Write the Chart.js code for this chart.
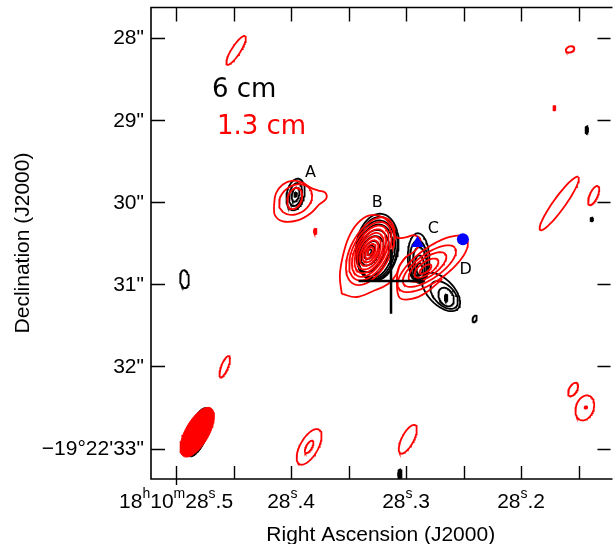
<!DOCTYPE html>
<html><head><meta charset="utf-8">
<script src="https://cdn.jsdelivr.net/npm/chart.js@4.4.0/dist/chart.umd.min.js"></script>
<style>html,body{margin:0;padding:0;background:#fff;}#wrap{width:616px;height:544px;}</style>
</head><body><div id="wrap"><canvas id="c" width="616" height="544"></canvas></div>
<script>
// ---- axes (RA seconds of 18h10m, Dec arcsec of -19°22') ----
const raRange = [28.1240, 28.5218];
const decRange = [27.633, 33.369];
const xTickValues = [28.5, 28.45, 28.4, 28.35, 28.3, 28.25, 28.2, 28.15];
const xLabelValues = [28.5, 28.4, 28.3, 28.2];
const xLabelTexts = ['18^h10^m28^s.5', '28^s.4', '28^s.3', '28^s.2'];
const yTickValues = [28, 29, 30, 31, 32, 33];
const yLabelTexts = ['28"', '29"', '30"', '31"', '32"', '\u221219\u00b022\'33"'];
const xTitle = 'Right Ascension (J2000)';
const yTitle = 'Declination (J2000)';

// ---- contours: [RA s, Dec arcsec, semi-major ", semi-minor ", angle deg] ----
const redContours = [
  [28.4478, 28.154, 0.206, 0.054, 57],
  [28.1574, 28.142, 0.054, 0.036, 20],
  [28.1668, 30.017, 0.399, 0.073, 54],
  [28.1369, 29.920, 0.127, 0.048, 65],
  [28.1548, 32.280, 0.091, 0.048, 60],
  [28.1446, 32.504, 0.157, 0.109, 70],
  [28.2985, 32.885, 0.194, 0.073, 62],
  [28.3843, 32.978, 0.242, 0.109, 60],
  [28.3843, 32.978, 0.085, 0.036, 60],
  [28.4577, 32.002, 0.139, 0.042, 68],
  [28.3961, 29.969, 0.218, 0.169, 35],
  [28.3969, 29.957, 0.133, 0.085, 70],
  [28.3311, 30.598, 0.448, 0.242, 62],
  [28.3311, 30.598, 0.387, 0.212, 62],
  [28.3311, 30.598, 0.339, 0.182, 62],
  [28.3311, 30.598, 0.290, 0.157, 62],
  [28.3311, 30.598, 0.242, 0.133, 62],
  [28.3311, 30.598, 0.194, 0.103, 62],
  [28.3311, 30.598, 0.145, 0.079, 62],
  [28.3311, 30.598, 0.097, 0.054, 62],
  [28.3311, 30.598, 0.054, 0.030, 62],
  [28.2768, 30.752, 0.515, 0.200, 36],
  [28.2797, 30.779, 0.385, 0.150, 35],
  [28.2814, 30.791, 0.272, 0.112, 35],
  [28.2823, 30.803, 0.172, 0.075, 35],
  [28.2831, 30.815, 0.085, 0.036, 35]
];
const redDots = [
  [28.1711, 28.856, 0.030, 0.015, 90],
  [28.3790, 30.356, 0.036, 0.018, 90],
  [28.1437, 32.498, 0.018, 0.015, 0]
];
const blackContours = [
  [28.4927, 30.937, 0.109, 0.054, 95],
  [28.2404, 31.421, 0.042, 0.024, 70],
  [28.3961, 29.908, 0.195, 0.108, 78],
  [28.3961, 29.908, 0.142, 0.076, 78],
  [28.3961, 29.908, 0.088, 0.044, 78],
  [28.3251, 30.550, 0.410, 0.260, 82],
  [28.3251, 30.562, 0.385, 0.245, 82],
  [28.3259, 30.580, 0.360, 0.228, 80],
  [28.3268, 30.598, 0.330, 0.210, 78],
  [28.3285, 30.622, 0.290, 0.182, 74],
  [28.3302, 30.634, 0.230, 0.140, 68],
  [28.3311, 30.622, 0.160, 0.095, 62],
  [28.3319, 30.610, 0.090, 0.050, 60],
  [28.3319, 30.610, 0.040, 0.022, 60],
  [28.2891, 30.682, 0.303, 0.133, 92],
  [28.2891, 30.719, 0.254, 0.109, 92],
  [28.2883, 30.755, 0.206, 0.085, 92],
  [28.2883, 30.791, 0.145, 0.061, 92],
  [28.2883, 30.815, 0.073, 0.036, 92],
  [28.2695, 31.094, 0.290, 0.157, -45],
  [28.2669, 31.130, 0.206, 0.121, -45],
  [28.2652, 31.155, 0.121, 0.085, -60]
];
const blackDots = [
  [28.1429, 29.122, 0.048, 0.018, 90],
  [28.1386, 30.211, 0.024, 0.018, 90],
  [28.3054, 33.309, 0.060, 0.024, 90],
  [28.3961, 29.908, 0.030, 0.018, 78],
  [28.2652, 31.167, 0.048, 0.018, 90]
];
// irregular outer red contours (vertex lists)
const outlineA_ra  = [28.4149, 28.4132, 28.4072, 28.3986, 28.3901, 28.3832, 28.3764, 28.3704, 28.3695, 28.3755, 28.3832, 28.3944, 28.4072, 28.4140];
const outlineA_dec = [30.053, 29.896, 29.787, 29.739, 29.763, 29.824, 29.860, 29.884, 29.957, 30.029, 30.138, 30.222, 30.234, 30.162];
const outlineB_ra  = [28.3559, 28.3576, 28.3550, 28.3499, 28.3422, 28.3319, 28.3199, 28.3122, 28.3088, 28.3003, 28.2926, 28.2874, 28.2917, 28.3003, 28.3054, 28.3088, 28.3157, 28.3285, 28.3430];
const outlineB_dec = [31.118, 30.900, 30.658, 30.429, 30.259, 30.162, 30.187, 30.308, 30.429, 30.429, 30.404, 30.465, 30.586, 30.671, 30.767, 30.888, 30.997, 31.082, 31.155];
const outlineCD_ra  = [28.3003, 28.3062, 28.3080, 28.3054, 28.2951, 28.2831, 28.2686];
const outlineCD_dec = [30.671, 30.791, 30.985, 31.167, 31.179, 31.106, 30.937];
// synthesized beams (filled)
const beamBlack = [28.4808, 32.800, 0.315, 0.121, 70];
const beamRed   = [28.4816, 32.800, 0.339, 0.145, 60];
// markers
const crossH_ra = [28.3413, 28.2849], crossH_dec = [30.961, 30.961];
const crossV_ra = [28.3131, 28.3131], crossV_dec = [30.574, 31.360];
const triangleRA = [28.2900], triangleDec = [30.501];
const circleRA = [28.2506], circleDec = [30.453];
// annotations
const sourceNames = ['A', 'B', 'C', 'D'];
const sourceRA  = [28.3832, 28.3251, 28.2763, 28.2481];
const sourceDec = [29.642, 30.005, 30.320, 30.828];
const legendTexts = ['6 cm', '1.3 cm'];
const legendColors = ['#000000', '#ff0000'];
const legendRA  = [28.4688, 28.4645];
const legendDec = [28.722, 29.170];

// ---- build ----
const ARCSEC_PER_RA_S = 15 * Math.cos((19 + 22.5 / 60) * Math.PI / 180);
function ellipsePts(e) {
  const [cx, cy, a, b, ang] = e, t0 = ang * Math.PI / 180, pts = [], n = 72;
  for (let i = 0; i <= n; i++) {
    const t = 2 * Math.PI * i / n, ex = a * Math.cos(t), ey = b * Math.sin(t);
    const X = ex * Math.cos(t0) - ey * Math.sin(t0), Y = ex * Math.sin(t0) + ey * Math.cos(t0);
    pts.push({x: cx - X / ARCSEC_PER_RA_S, y: cy - Y});
  }
  return pts;
}
function zipPts(xs, ys, close) {
  const p = xs.map((x, i) => ({x, y: ys[i]}));
  if (close) p.push({...p[0]});
  return p;
}
function ds(pts, color, order, opts) {
  return Object.assign({data: pts, showLine: true, borderColor: color, backgroundColor: color,
    borderWidth: 1.8, pointRadius: 0, pointHoverRadius: 0, fill: false, tension: 0, order}, opts || {});
}
const datasets = [];
datasets.push({data: zipPts(triangleRA, triangleDec), pointStyle: 'triangle', pointRadius: 7.5, backgroundColor: '#0000ff', borderColor: '#0000ff', borderWidth: 0, showLine: false, order: 0});
datasets.push({data: zipPts(circleRA, circleDec), pointStyle: 'circle', pointRadius: 6, backgroundColor: '#0000ff', borderColor: '#0000ff', borderWidth: 0, showLine: false, order: 0});
datasets.push(ds(zipPts(crossH_ra, crossH_dec), '#000', 1, {borderWidth: 2.5}));
datasets.push(ds(zipPts(crossV_ra, crossV_dec), '#000', 1, {borderWidth: 2.5}));
redContours.forEach(e => datasets.push(ds(ellipsePts(e), '#ff0000', 2)));
redDots.forEach(e => datasets.push(ds(ellipsePts(e), '#ff0000', 2, {fill: 'shape', borderWidth: 1.5})));
datasets.push(ds(zipPts(outlineA_ra, outlineA_dec, true), '#ff0000', 2, {tension: 0.4}));
datasets.push(ds(zipPts(outlineB_ra, outlineB_dec, true), '#ff0000', 2, {tension: 0.4}));
datasets.push(ds(zipPts(outlineCD_ra, outlineCD_dec, false), '#ff0000', 2, {tension: 0.4}));
datasets.push(ds(ellipsePts(beamRed), '#ff0000', 2, {fill: 'shape', borderWidth: 1}));
blackContours.forEach(e => datasets.push(ds(ellipsePts(e), '#000000', 3)));
blackDots.forEach(e => datasets.push(ds(ellipsePts(e), '#000000', 3, {fill: 'shape', borderWidth: 1.5})));
datasets.push(ds(ellipsePts(beamBlack), '#000000', 3, {fill: 'shape', borderWidth: 1}));

const TICK_FONT = '21px "Liberation Sans"';
const SUP_FONT = '14px "Liberation Sans"';
function parseSup(str) {
  const parts = []; let i = 0;
  while (i < str.length) {
    if (str[i] === '^') { parts.push({t: str[i + 1], sup: true}); i += 2; }
    else { let j = i; while (j < str.length && str[j] !== '^') j++; parts.push({t: str.slice(i, j), sup: false}); i = j; }
  }
  return parts;
}
const framePlugin = {
  id: 'framePlugin',
  afterDatasetsDraw(chart) {
    const {ctx, chartArea: ca} = chart, xs = chart.scales.x, ys = chart.scales.y;
    ctx.save();
    ctx.fillStyle = '#000'; ctx.font = '16px "DejaVu Sans"'; ctx.textAlign = 'center'; ctx.textBaseline = 'middle';
    sourceNames.forEach((n, i) => ctx.fillText(n, xs.getPixelForValue(sourceRA[i]), ys.getPixelForValue(sourceDec[i])));
    ctx.font = '26px "DejaVu Sans"'; ctx.textAlign = 'left'; ctx.textBaseline = 'alphabetic';
    legendTexts.forEach((t, i) => { ctx.fillStyle = legendColors[i]; ctx.fillText(t, xs.getPixelForValue(legendRA[i]), ys.getPixelForValue(legendDec[i])); });
    ctx.strokeStyle = '#000'; ctx.lineWidth = 1.6;
    ctx.beginPath();
    ctx.moveTo(ca.right + 4, ca.top); ctx.lineTo(ca.left, ca.top); ctx.lineTo(ca.left, ca.bottom); ctx.lineTo(ca.right + 4, ca.bottom);
    ctx.stroke();
    ctx.lineWidth = 1.4;
    ctx.beginPath();
    xTickValues.forEach(v => { const p = Math.round(xs.getPixelForValue(v)) + 0.5;
      ctx.moveTo(p, ca.bottom); ctx.lineTo(p, ca.bottom - 13); ctx.moveTo(p, ca.top); ctx.lineTo(p, ca.top + 14); });
    yTickValues.forEach(v => { const p = Math.round(ys.getPixelForValue(v)) + 0.5;
      ctx.moveTo(ca.left, p); ctx.lineTo(ca.left + 14, p); ctx.moveTo(ca.right + 2, p); ctx.lineTo(ca.right - 11, p); });
    { const p = Math.round(xs.getPixelForValue(xLabelValues[0])) + 0.5; ctx.moveTo(p, ca.bottom); ctx.lineTo(p, ca.bottom + 6); }
    ctx.stroke();
    ctx.fillStyle = '#000'; ctx.textBaseline = 'alphabetic'; ctx.textAlign = 'left';
    xLabelValues.forEach((v, i) => {
      const parts = parseSup(xLabelTexts[i]);
      let w = 0;
      parts.forEach(p => { ctx.font = p.sup ? SUP_FONT : TICK_FONT; p.w = ctx.measureText(p.t).width; w += p.w; });
      let x = xs.getPixelForValue(v) - w / 2; const base = ca.bottom + 29;
      parts.forEach(p => { ctx.font = p.sup ? SUP_FONT : TICK_FONT; ctx.fillText(p.t, x, p.sup ? base - 10 : base); x += p.w; });
    });
    ctx.font = TICK_FONT; ctx.textAlign = 'right'; ctx.textBaseline = 'middle';
    yTickValues.forEach((v, i) => ctx.fillText(yLabelTexts[i], ca.left - 7, ys.getPixelForValue(v) + 1));
    ctx.textAlign = 'center'; ctx.textBaseline = 'alphabetic';
    ctx.fillText(xTitle, (ca.left + ca.right) / 2 + 1, 541);
    ctx.save(); ctx.translate(29, 243); ctx.rotate(-Math.PI / 2); ctx.fillText(yTitle, 0, 0); ctx.restore();
    ctx.restore();
  }
};

new Chart(document.getElementById('c'), {
  type: 'scatter',
  data: {datasets},
  options: {
    responsive: false, animation: false, devicePixelRatio: 1,
    layout: {padding: {left: 151, top: 5, right: 0, bottom: 65}},
    plugins: {legend: {display: false}, tooltip: {enabled: false}},
    scales: {
      x: {type: 'linear', display: false, reverse: true, min: raRange[0], max: raRange[1]},
      y: {type: 'linear', display: false, reverse: true, min: decRange[0], max: decRange[1]}
    }
  },
  plugins: [framePlugin]
});
</script></body></html>
